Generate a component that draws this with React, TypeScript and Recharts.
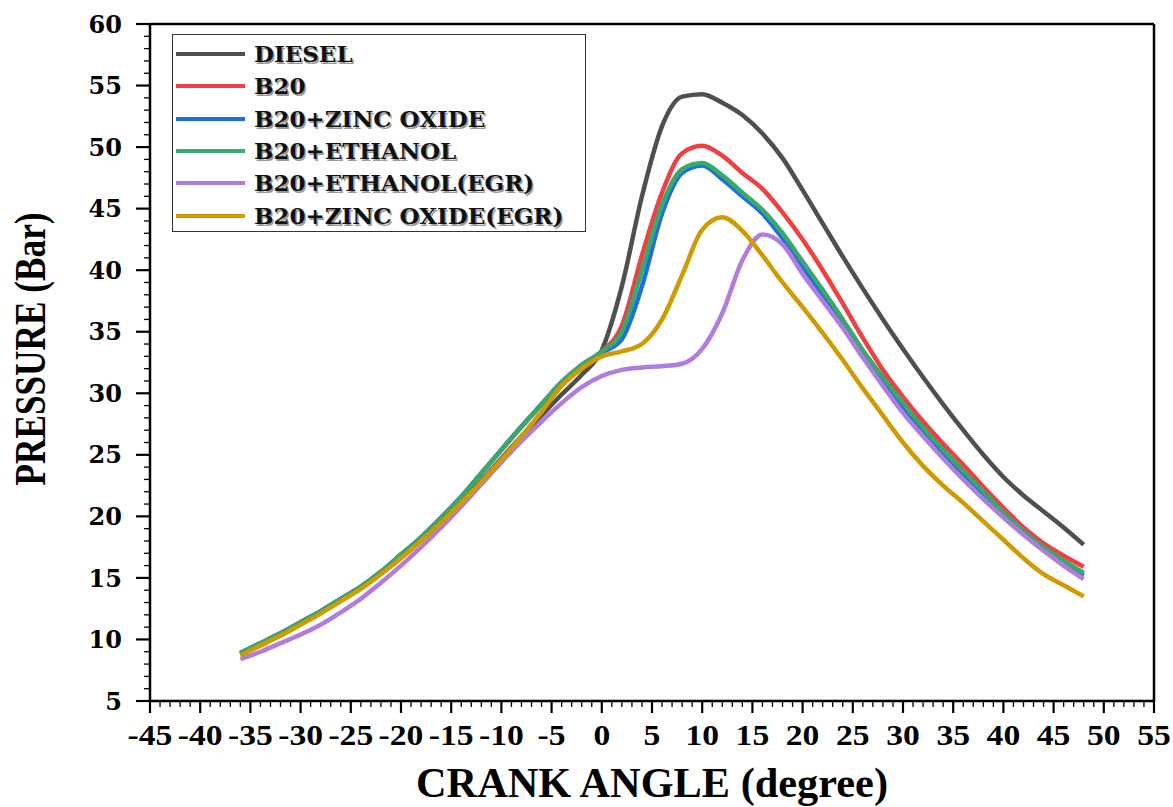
import { Label, Legend, Line, LineChart, ReferenceLine, XAxis, YAxis } from "recharts";

const angles = [
  -36, -34, -32, -30, -28, -26, -24, -22, -20, -18, -16, -14, -12, -10, -8, -6, -4, -2, 0, 2, 4, 6,
  8, 10, 12, 14, 16, 18, 20, 22, 24, 26, 28, 30, 32, 34, 36, 38, 40, 42, 44, 46, 48,
];

const diesel = [
  8.8, 9.6, 10.4, 11.3, 12.2, 13.2, 14.2, 15.4, 16.7, 18.1, 19.6, 21.2, 22.9, 24.7, 26.5, 28.2, 29.9,
  31.5, 33.5, 38.7, 46.0, 51.7, 54.1, 54.3, 53.6, 52.6, 51.1, 49.1, 46.5, 43.8, 41.1, 38.5, 36.0, 33.6,
  31.3, 29.1, 27.0, 25.0, 23.2, 21.7, 20.4, 19.1, 17.7,
];
const b20 = [
  8.9, 9.7, 10.5, 11.4, 12.3, 13.3, 14.3, 15.5, 16.9, 18.3, 19.9, 21.6, 23.5, 25.4, 27.3, 29.1, 30.9,
  32.3, 33.4, 35.5, 41.2, 46.3, 49.5, 50.1, 49.3, 47.9, 46.6, 44.7, 42.5, 40.0, 37.3, 34.5, 31.9, 29.7,
  27.7, 25.9, 24.2, 22.4, 20.7, 19.1, 17.8, 16.8, 15.9,
];
const b20Zno = [
  8.9, 9.7, 10.5, 11.4, 12.3, 13.3, 14.3, 15.5, 16.9, 18.3, 19.9, 21.6, 23.5, 25.4, 27.3, 29.1, 30.9,
  32.3, 33.3, 34.4, 38.7, 44.6, 47.9, 48.5, 47.4, 46.0, 44.6, 42.6, 40.3, 38.0, 35.6, 33.2, 31.0, 28.9,
  26.9, 25.1, 23.4, 21.8, 20.1, 18.6, 17.3, 16.2, 15.2,
];
const b20Ethanol = [
  8.9, 9.7, 10.5, 11.4, 12.3, 13.3, 14.3, 15.5, 16.9, 18.3, 19.9, 21.6, 23.5, 25.4, 27.3, 29.1, 30.9,
  32.3, 33.4, 35.0, 40.0, 45.3, 48.2, 48.7, 47.7, 46.3, 44.9, 43.0, 40.7, 38.4, 36.0, 33.5, 31.3, 29.2,
  27.2, 25.4, 23.7, 22.0, 20.3, 18.8, 17.5, 16.4, 15.4,
];
const b20EthanolEgr = [
  8.4, 9.0, 9.7, 10.4, 11.2, 12.2, 13.3, 14.6, 16.0, 17.5, 19.1, 20.8, 22.6, 24.4, 26.1, 27.7, 29.2,
  30.5, 31.4, 31.9, 32.1, 32.2, 32.4, 33.6, 36.5, 40.8, 42.9, 42.1, 39.7, 37.5, 35.3, 32.9, 30.6, 28.4,
  26.5, 24.7, 23.0, 21.4, 19.9, 18.5, 17.2, 16.0, 14.9,
];
const b20ZnoEgr = [
  8.7, 9.5, 10.3, 11.2, 12.1, 13.1, 14.1, 15.3, 16.6, 18.0, 19.5, 21.1, 22.8, 24.6, 26.5, 28.5, 30.6,
  32.0, 33.0, 33.4, 34.0, 36.0, 39.6, 43.3, 44.3, 43.2, 41.2, 39.0, 37.0, 34.9, 32.7, 30.4, 28.2, 26.0,
  24.1, 22.5, 21.1, 19.6, 18.1, 16.6, 15.3, 14.4, 13.5,
];

const seriesNames = [
  "DIESEL",
  "B20",
  "B20+ZINC OXIDE",
  "B20+ETHANOL",
  "B20+ETHANOL(EGR)",
  "B20+ZINC OXIDE(EGR)",
];
const seriesKeys = ["diesel", "b20", "b20Zno", "b20Ethanol", "b20EthanolEgr", "b20ZnoEgr"];
const seriesColors = ["#4f4f4f", "#ef4141", "#1d6fdf", "#38a86c", "#b07ddf", "#cf9b00"];
const seriesValues = [diesel, b20, b20Zno, b20Ethanol, b20EthanolEgr, b20ZnoEgr];

const xTicks: number[] = [];
for (let v = -45; v <= 55; v++) xTicks.push(v);
const yTicks: number[] = [];
for (let v = 5; v <= 60; v++) yTicks.push(v);

const data = angles.map((angle, i) => {
  const row: Record<string, number> = { angle };
  seriesKeys.forEach((k, j) => (row[k] = seriesValues[j][i]));
  return row;
});

// the source picture is a bit stretched sideways, hence the scaleX on labels
const XTick = ({ x, y, payload }: any) => {
  const major = payload.value % 5 === 0;
  return (
    <g>
      <line x1={x} y1={y} x2={x} y2={y + (major ? 12 : 6)} stroke="#000" strokeWidth={major ? 2.2 : 1.3} />
      {major && (
        <text
          transform={`translate(${x},${y + 44}) scale(1.12,1)`}
          textAnchor="middle"
          fontFamily="Liberation Serif"
          fontWeight="bold"
          fontSize={30}
          fill="#000"
        >
          {payload.value}
        </text>
      )}
    </g>
  );
};

const YTick = ({ x, y, payload }: any) => {
  const major = payload.value % 5 === 0;
  return (
    <g>
      <line x1={x} y1={y} x2={x - (major ? 14 : 6)} y2={y} stroke="#000" strokeWidth={major ? 2.2 : 1.3} />
      {major && (
        <text
          x={x - 28}
          y={y}
          dy="0.36em"
          textAnchor="end"
          fontFamily="DejaVu Serif"
          fontWeight="bold"
          fontSize={24}
          fill="#000"
        >
          {payload.value}
        </text>
      )}
    </g>
  );
};

const LegendBox = () => (
  <div
    style={{
      border: "1.5px solid #333",
      background: "#fff",
      padding: "3px 0 6px 3px",
      boxSizing: "border-box",
      width: 414,
      height: 198,
    }}
  >
    {seriesNames.map((name, i) => (
      <div key={name} style={{ display: "flex", alignItems: "center", height: 32.3 }}>
        <div style={{ width: 69, height: 4, background: seriesColors[i] }} />
        <span
          style={{
            marginLeft: 9,
            fontFamily: "DejaVu Serif",
            fontWeight: "bold",
            fontSize: 23,
            lineHeight: "26px",
            color: "#111",
            textShadow: "1.5px 1.5px 0 #9a9a9a",
            whiteSpace: "nowrap",
          }}
        >
          {name}
        </span>
      </div>
    ))}
  </div>
);

export default function App() {
  return (
    <div style={{ position: "absolute", left: 0, top: 0, background: "#fff" }}>
      <LineChart width={1173} height={807} data={data} margin={{ top: 24, right: 19, bottom: 0, left: 0 }}>
        <XAxis
          dataKey="angle"
          type="number"
          domain={[-45, 55]}
          ticks={xTicks}
          interval={0}
          tick={<XTick />}
          tickLine={false}
          tickSize={0}
          tickMargin={0}
          height={106}
          axisLine={{ stroke: "#000", strokeWidth: 2.5 }}
        >
          <Label
            content={({ viewBox }: any) => (
              <text
                x={viewBox.x + viewBox.width / 2}
                y={viewBox.y + 96}
                textAnchor="middle"
                fontFamily="Liberation Serif"
                fontWeight="bold"
                fontSize={42}
                textLength={472}
                lengthAdjust="spacingAndGlyphs"
                fill="#000"
              >
                CRANK ANGLE (degree)
              </text>
            )}
          />
        </XAxis>
        <YAxis
          type="number"
          domain={[5, 60]}
          ticks={yTicks}
          interval={0}
          tick={<YTick />}
          tickLine={false}
          tickSize={0}
          tickMargin={0}
          width={150}
          axisLine={{ stroke: "#000", strokeWidth: 2.5 }}
        >
          <Label
            content={() => (
              <text
                x={45}
                y={349}
                transform="rotate(-90 45 349)"
                textAnchor="middle"
                fontFamily="Liberation Serif"
                fontWeight="bold"
                fontSize={44}
                textLength={273}
                lengthAdjust="spacingAndGlyphs"
                fill="#000"
              >
                PRESSURE (Bar)
              </text>
            )}
          />
        </YAxis>
        <ReferenceLine y={60} stroke="#000" strokeWidth={2.5} />
        <ReferenceLine x={55} stroke="#000" strokeWidth={2.5} />
        <Legend
          layout="vertical"
          align="center"
          verticalAlign="middle"
          content={<LegendBox />}
          wrapperStyle={{ left: 172, top: 34, width: 414, height: 198 }}
        />
        {seriesKeys.map((k, i) => (
          <Line
            key={k}
            dataKey={k}
            name={seriesNames[i]}
            type="monotone"
            stroke={seriesColors[i]}
            strokeWidth={4.5}
            dot={false}
            isAnimationActive={false}
          />
        ))}
      </LineChart>
    </div>
  );
}
